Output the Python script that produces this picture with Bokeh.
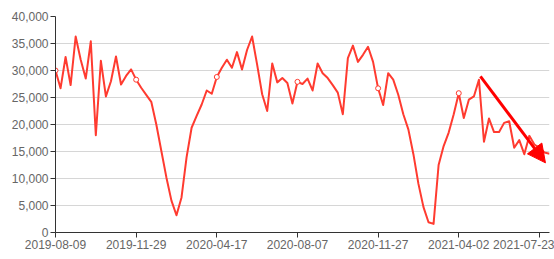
from bokeh.plotting import figure
from bokeh.models import Range1d, FixedTicker, NumeralTickFormatter, Arrow, NormalHead
from bokeh.embed import file_html
from bokeh.resources import INLINE

values = [30000, 26700, 32500, 27300, 36300, 32000, 28500, 35400, 18000, 31800,
          25200, 28000, 32600, 27400, 29000, 30200, 28300, 26800, 25500, 24200,
          20000, 15100, 10200, 5900, 3200, 6500, 13900, 19400, 21600, 23700,
          26300, 25700, 28800, 30500, 32000, 30500, 33400, 30200, 33800, 36300,
          31100, 25600, 22500, 31300, 27800, 28600, 27700, 23900, 27900, 27500,
          28500, 26300, 31300, 29500, 28600, 27300, 25900, 21900, 32300, 34600,
          31600, 32900, 34400, 31600, 26700, 23600, 29500, 28300, 25500, 21900,
          19100, 14500, 9000, 4700, 1900, 1600, 12500, 16000, 18500, 21900,
          25800, 21200, 24600, 25200, 28300, 16800, 21100, 18600, 18600, 20300,
          20600, 15700, 17100, 14500, 17900, 16300, 15700, 14800, 14600]
tick_labels = ["2019-08-09", "2019-11-29", "2020-04-17", "2020-08-07",
               "2020-11-27", "2021-04-02", "2021-07-23"]
label_step = 16
y_ticks = [0, 5000, 10000, 15000, 20000, 25000, 30000, 35000, 40000]
arrow_start = (84.3, 28900)
arrow_end = (97.2, 12900)

xs = list(range(len(values)))
tick_pos = [i * label_step for i in range(len(tick_labels))]

p = figure(width=554, height=259, output_backend="svg", toolbar_location=None,
           x_range=Range1d(0, len(values) - 1), y_range=Range1d(0, 40000),
           min_border_left=55, min_border_right=5, min_border_top=16, min_border_bottom=27)
p.outline_line_color = None
p.background_fill_color = "white"
p.border_fill_color = "white"

font = "Liberation Sans"
p.xgrid.grid_line_color = None
p.ygrid.grid_line_color = "#d6d6d6"
p.ygrid.grid_line_width = 1

p.yaxis.ticker = FixedTicker(ticks=y_ticks)
p.yaxis.formatter = NumeralTickFormatter(format="0,0")
p.xaxis.ticker = FixedTicker(ticks=tick_pos)
p.xaxis.major_label_overrides = {pos: lab for pos, lab in zip(tick_pos, tick_labels)}

for ax in (p.xaxis[0], p.yaxis[0]):
    ax.axis_line_color = "#333333"
    ax.major_tick_line_color = "#333333"
    ax.major_tick_out = 5
    ax.major_tick_in = 0
    ax.minor_tick_line_color = None
    ax.major_label_text_font = font
    ax.major_label_text_font_size = "12px"
    ax.major_label_text_color = "#666666"
    ax.major_label_standoff = 2

p.line(xs, values, line_color="#ff3b30", line_width=2, line_join="round")
mx = tick_pos
my = [values[i] for i in tick_pos]
p.scatter(mx, my, size=5, fill_color="white", line_color="#ff3b30", line_width=1)

p.add_layout(Arrow(end=NormalHead(size=18, fill_color="#ff0000", line_color="#ff0000"),
                   x_start=arrow_start[0], y_start=arrow_start[1],
                   x_end=arrow_end[0], y_end=arrow_end[1],
                   line_color="#ff0000", line_width=3))

open("out.html", "w").write(file_html(p, INLINE))
